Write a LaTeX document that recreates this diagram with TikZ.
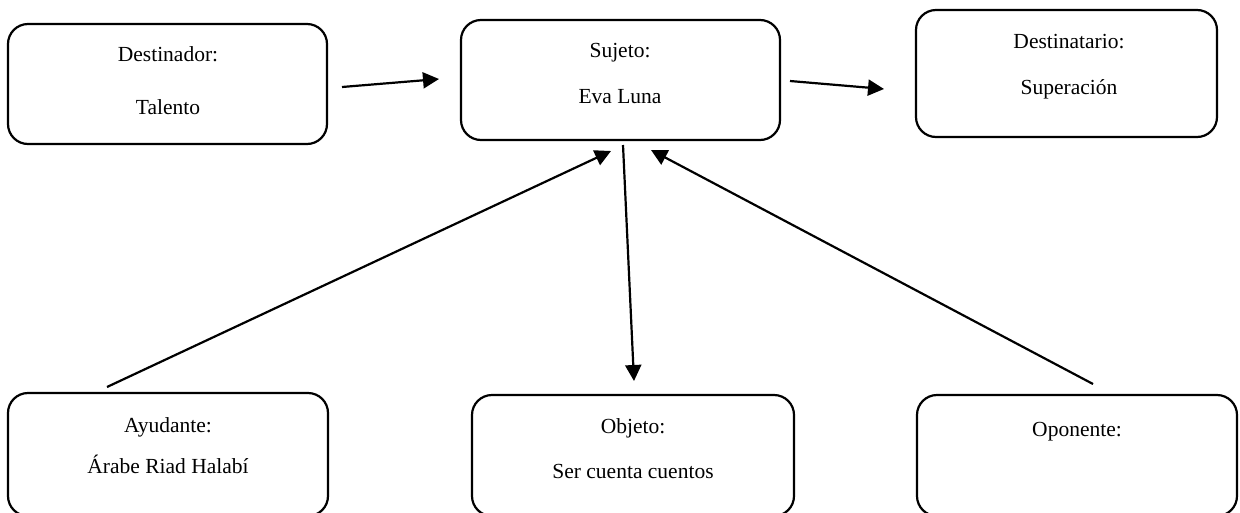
\documentclass[tikz,border=0pt]{standalone}
\usepackage{fontspec}
\setmainfont{Liberation Serif}
\usetikzlibrary{arrows.meta}
\begin{document}
\begin{tikzpicture}[x=1pt,y=-1pt,
  box/.style={draw=black, line width=2.2pt, rounded corners=20pt, inner sep=0pt, fill=none},
  lbl/.style={anchor=base, inner sep=0pt, font=\fontsize{21.5}{26}\selectfont},
  conn/.style={line width=2.2pt, -{Triangle[length=16pt,width=16pt]}}]
\useasboundingbox (0,0) rectangle (1240,512);
% boxes
\node[box, minimum width=319pt, minimum height=120pt] (dor) at (167.5,84) {};
\node[box, minimum width=319pt, minimum height=120pt] (suj) at (620.5,80) {};
\node[box, minimum width=301pt, minimum height=127pt] (dat) at (1066.5,73.5) {};
\node[box, minimum width=320pt, minimum height=123pt] (ayu) at (168,454.5) {};
\node[box, minimum width=322pt, minimum height=121pt] (obj) at (633,455.5) {};
\node[box, minimum width=320pt, minimum height=121pt] (opo) at (1077,455.5) {};
% labels
\node[lbl] (t1a) at (168,61) {Destinador:};
\node[lbl] (t1b) at (168,114) {Talento};
\node[lbl] (t2a) at (620,57) {Sujeto:};
\node[lbl] (t2b) at (620,103) {Eva Luna};
\node[lbl] (t3a) at (1069,48) {Destinatario:};
\node[lbl] (t3b) at (1069,94) {Superación};
\node[lbl] (t4a) at (168,432) {Ayudante:};
\node[lbl] (t4b) at (168,473) {Árabe Riad Halabí};
\node[lbl] (t5a) at (633,433) {Objeto:};
\node[lbl] (t5b) at (633,478) {Ser cuenta cuentos};
\node[lbl] (t6a) at (1077,436) {Oponente:};
% connector ends
\coordinate (a1s) at (342,87);  \coordinate (a1e) at (439,79);
\coordinate (a2s) at (790,81);  \coordinate (a2e) at (884,89);
\coordinate (a3s) at (623,145); \coordinate (a3e) at (634,381);
\coordinate (a4s) at (107,387); \coordinate (a4e) at (611,151);
\coordinate (a5s) at (1093,384); \coordinate (a5e) at (651,150);
\draw[conn] (a1s) -- (a1e);
\draw[conn] (a2s) -- (a2e);
\draw[conn] (a3s) -- (a3e);
\draw[conn] (a4s) -- (a4e);
\draw[conn] (a5s) -- (a5e);
\end{tikzpicture}
\end{document}
